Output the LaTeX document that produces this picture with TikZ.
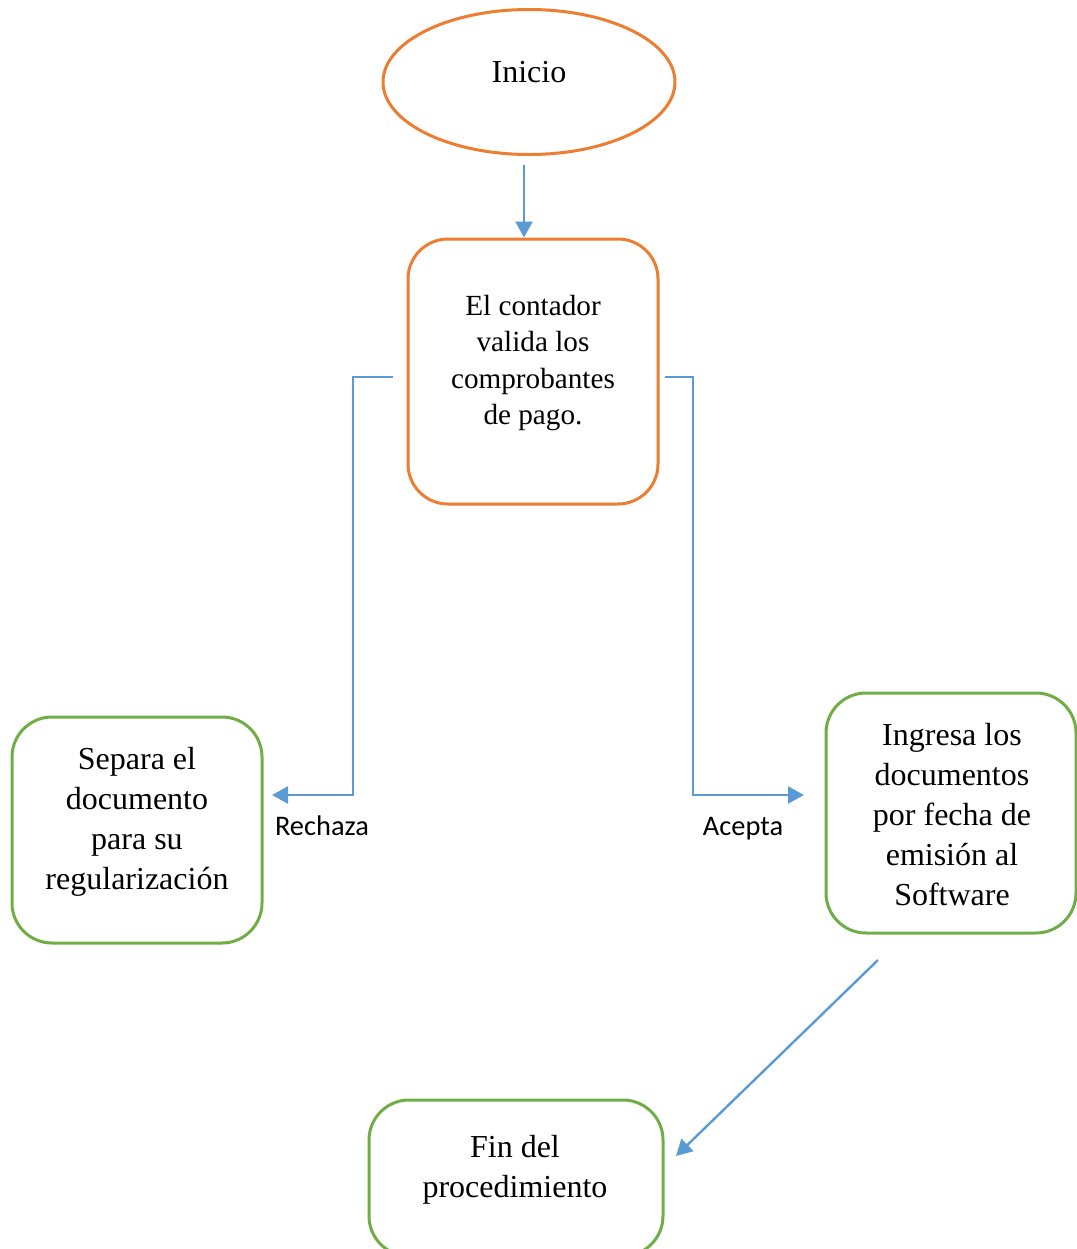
\documentclass[tikz,border=0pt]{standalone}
\usepackage{fontspec}
\setmainfont{Liberation Serif}
\newfontfamily\lblfont{Carlito}
\usetikzlibrary{shapes.geometric,arrows.meta}
\definecolor{orng}{HTML}{ED7D31}
\definecolor{grn}{HTML}{70AD47}
\definecolor{blu}{HTML}{5B9BD5}
\begin{document}
\begin{tikzpicture}[x=0.5pt,y=-0.5pt,
  obox/.style={draw=orng,line width=1.5pt,rounded corners=20pt,inner sep=0pt},
  gbox/.style={draw=grn,line width=1.5pt,rounded corners=20pt,inner sep=0pt},
  bigtxt/.style={align=center,font=\fontsize{16}{20}\selectfont,inner sep=0pt},
  midtxt/.style={align=center,font=\fontsize{14.6}{18.2}\selectfont,inner sep=0pt},
  lbl/.style={font=\lblfont\fontsize{14.2}{17}\selectfont,inner sep=0pt,anchor=base},
  arr/.style={draw=blu,line width=1.2pt,-{Triangle[length=8pt,width=8.5pt]}}]
\useasboundingbox (0,0) rectangle (1077,1249);
\begin{scope}
\clip (0,0) rectangle (1077,1249);
% start ellipse
\node[ellipse,draw=orng,line width=1.5pt,minimum width=146pt,minimum height=72.5pt,inner sep=0pt] (ini) at (529,82) {};
\node[bigtxt] (initxt) at (529,72) {Inicio};
% validation box
\node[obox,minimum width=125pt,minimum height=132.5pt] (val) at (533,371.5) {};
\node[midtxt] (valtxt) at (533,363) {El contador\\valida los\\comprobantes\\de pago.};
% left box
\node[gbox,minimum width=125pt,minimum height=113pt] (sep) at (137,830) {};
\node[bigtxt] (septxt) at (137,822) {Separa el\\documento\\para su\\regularización};
% right box
\node[gbox,minimum width=125pt,minimum height=120pt] (ing) at (951,813) {};
\node[bigtxt] (ingtxt) at (952,815) {Ingresa los\\documentos\\por fecha de\\emisión al\\Software};
% end box
\node[gbox,minimum width=147pt,minimum height=78pt] (fin) at (516,1178) {};
\node[bigtxt] (fintxt) at (515,1170) {Fin del\\procedimiento};
\end{scope}
% connectors
\coordinate (s0) at (524,165);
\draw[arr] (s0) -- (val.north -| s0);
\coordinate (l0) at (393,377);
\coordinate (l1) at (353,377);
\coordinate (l2) at (353,795);
\coordinate (l3) at (272,795);
\draw[arr] (l0) -- (l1) -- (l2) -- (l3);
\coordinate (r0) at (665,377);
\coordinate (r1) at (693,377);
\coordinate (r2) at (693,795);
\coordinate (r3) at (804,795);
\draw[arr] (r0) -- (r1) -- (r2) -- (r3);
\coordinate (d0) at (878,960);
\coordinate (d1) at (676,1156);
\draw[arr] (d0) -- (d1);
% labels
\node[lbl] (rech) at (322,835) {Rechaza};
\node[lbl] (acep) at (743,835) {Acepta};
\end{tikzpicture}
\end{document}
